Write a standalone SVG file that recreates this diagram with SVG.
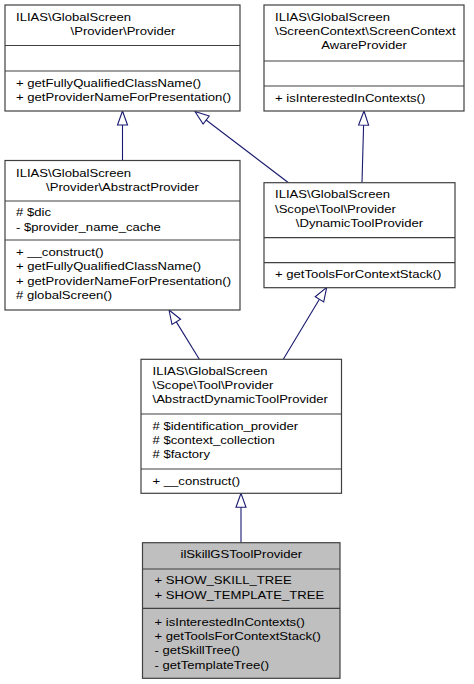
<svg xmlns="http://www.w3.org/2000/svg" width="474" height="684" viewBox="0 0 474 684">
<style>
.box{fill:#ffffff;stroke:#404040;stroke-width:1.2}
.cur{fill:#bfbfbf;stroke:#404040;stroke-width:1.2}
.div{stroke:#404040;stroke-width:1.2}
text{font-family:"Liberation Sans",Arial,sans-serif;font-size:10.7px;fill:#000000}
.c{text-anchor:middle}
.edge{stroke:#191970;stroke-width:1.1;fill:none}
.head{stroke:#191970;stroke-width:1.1;fill:#ffffff}
</style>
<rect width="474" height="684" fill="#ffffff"/>
<g id="edges">
<line class="edge" x1="122.5" y1="160.5" x2="122.5" y2="125"/>
<polygon class="head" points="122.5,111 117.5,125 127.5,125"/>
<line class="edge" x1="288.5" y1="182.7" x2="206.1" y2="120"/>
<polygon class="head" points="195,111.5 209.2,116 203.1,124"/>
<line class="edge" x1="362" y1="182.7" x2="363.6" y2="125"/>
<polygon class="head" points="364,111 358.6,125 368.6,125.2"/>
<line class="edge" x1="199.3" y1="359.3" x2="176.3" y2="321.9"/>
<polygon class="head" points="169,310 180.6,319.3 172,324.5"/>
<line class="edge" x1="283.3" y1="359.3" x2="319.4" y2="299.3"/>
<polygon class="head" points="326.7,287.3 323.7,301.9 315.2,296.7"/>
<line class="edge" x1="241" y1="542.7" x2="241" y2="507.3"/>
<polygon class="head" points="241,493.3 236,507.3 246,507.3"/>
</g>
<g id="provider">
<rect class="box" x="5" y="5" width="235" height="106"/>
<line class="div" x1="5" y1="45.5" x2="240" y2="45.5"/>
<line class="div" x1="5" y1="71" x2="240" y2="71"/>
<text transform="matrix(1.225 0 0 1 16 20.5)">ILIAS\GlobalScreen</text>
<text class="c" transform="matrix(1.225 0 0 1 123 35)">\Provider\Provider</text>
<text transform="matrix(1.225 0 0 1 16 86.5)">+ getFullyQualifiedClassName()</text>
<text transform="matrix(1.225 0 0 1 16 101)">+ getProviderNameForPresentation()</text>
</g>
<g id="screencontextawareprovider">
<rect class="box" x="264" y="5" width="200" height="106"/>
<line class="div" x1="264" y1="61" x2="464" y2="61"/>
<line class="div" x1="264" y1="86" x2="464" y2="86"/>
<text transform="matrix(1.225 0 0 1 275 20.5)">ILIAS\GlobalScreen</text>
<text transform="matrix(1.225 0 0 1 275 35)">\ScreenContext\ScreenContext</text>
<text class="c" transform="matrix(1.225 0 0 1 364 49.4)">AwareProvider</text>
<text transform="matrix(1.225 0 0 1 275 101.5)">+ isInterestedInContexts()</text>
</g>
<g id="abstractprovider">
<rect class="box" x="5" y="160.5" width="235" height="149.5"/>
<line class="div" x1="5" y1="201" x2="240" y2="201"/>
<line class="div" x1="5" y1="240" x2="240" y2="240"/>
<text transform="matrix(1.225 0 0 1 16 176.5)">ILIAS\GlobalScreen</text>
<text class="c" transform="matrix(1.225 0 0 1 122.5 190.9)">\Provider\AbstractProvider</text>
<text transform="matrix(1.225 0 0 1 16 216.3)"># $dic</text>
<text transform="matrix(1.225 0 0 1 16 230.7)">- $provider_name_cache</text>
<text transform="matrix(1.225 0 0 1 16 256)">+ __construct()</text>
<text transform="matrix(1.225 0 0 1 16 270.4)">+ getFullyQualifiedClassName()</text>
<text transform="matrix(1.225 0 0 1 16 284.8)">+ getProviderNameForPresentation()</text>
<text transform="matrix(1.225 0 0 1 16 299.2)"># globalScreen()</text>
</g>
<g id="dynamictoolprovider">
<rect class="box" x="264" y="182.7" width="191" height="105"/>
<line class="div" x1="264" y1="237.7" x2="455" y2="237.7"/>
<line class="div" x1="264" y1="262.7" x2="455" y2="262.7"/>
<text transform="matrix(1.225 0 0 1 275 198.3)">ILIAS\GlobalScreen</text>
<text transform="matrix(1.225 0 0 1 275 212.7)">\Scope\Tool\Provider</text>
<text class="c" transform="matrix(1.225 0 0 1 359.5 227.1)">\DynamicToolProvider</text>
<text transform="matrix(1.225 0 0 1 275 278)">+ getToolsForContextStack()</text>
</g>
<g id="abstractdynamictoolprovider">
<rect class="box" x="141" y="359.3" width="200.5" height="134"/>
<line class="div" x1="141" y1="414" x2="341.5" y2="414"/>
<line class="div" x1="141" y1="469" x2="341.5" y2="469"/>
<text transform="matrix(1.225 0 0 1 152.5 374.5)">ILIAS\GlobalScreen</text>
<text transform="matrix(1.225 0 0 1 152.5 388.9)">\Scope\Tool\Provider</text>
<text transform="matrix(1.225 0 0 1 152.5 403.3)">\AbstractDynamicToolProvider</text>
<text transform="matrix(1.225 0 0 1 152.5 429.5)"># $identification_provider</text>
<text transform="matrix(1.225 0 0 1 152.5 443.9)"># $context_collection</text>
<text transform="matrix(1.225 0 0 1 152.5 458.3)"># $factory</text>
<text transform="matrix(1.225 0 0 1 152.5 484.5)">+ __construct()</text>
</g>
<g id="ilskillgstoolprovider">
<rect class="cur" x="142.5" y="542.7" width="197.5" height="135.6"/>
<line class="div" x1="142.5" y1="569" x2="340" y2="569"/>
<line class="div" x1="142.5" y1="608.3" x2="340" y2="608.3"/>
<text class="c" transform="matrix(1.225 0 0 1 241.3 558.3)">ilSkillGSToolProvider</text>
<text transform="matrix(1.225 0 0 1 154.5 584.3)">+ SHOW_SKILL_TREE</text>
<text transform="matrix(1.225 0 0 1 154.5 598.7)">+ SHOW_TEMPLATE_TREE</text>
<text transform="matrix(1.225 0 0 1 154.5 625.5)">+ isInterestedInContexts()</text>
<text transform="matrix(1.225 0 0 1 154.5 639.9)">+ getToolsForContextStack()</text>
<text transform="matrix(1.225 0 0 1 154.5 654.3)">- getSkillTree()</text>
<text transform="matrix(1.225 0 0 1 154.5 668.7)">- getTemplateTree()</text>
</g>
</svg>
